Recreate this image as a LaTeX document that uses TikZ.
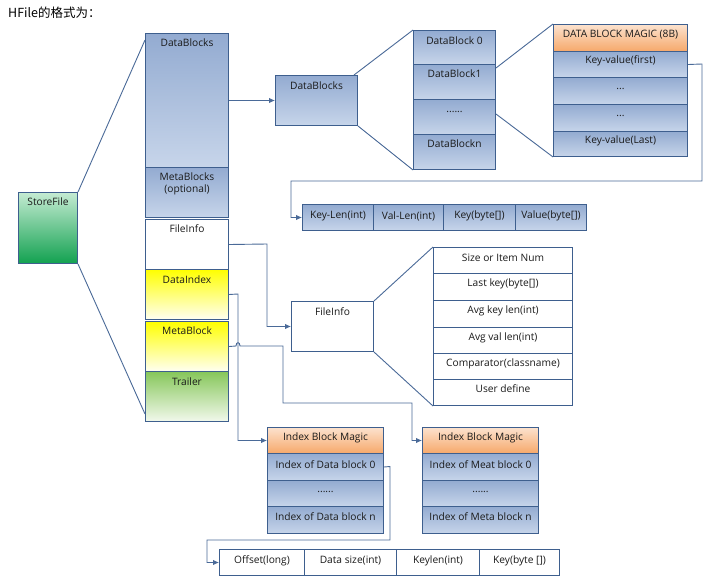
\documentclass[tikz,border=0pt]{standalone}
\usepackage{fontspec}
\setmainfont{Open Sans}
\newfontfamily\cjk{Noto Sans CJK SC}
\usetikzlibrary{arrows.meta}
\definecolor{edge}{HTML}{3E5F8E}
\definecolor{conn}{HTML}{4A6A98}
\definecolor{txt}{HTML}{1A1A1A}
\definecolor{bluetop}{HTML}{93ABD1}
\definecolor{bluebot}{HTML}{C7D5EA}
\definecolor{orgtop}{HTML}{FCE2CE}
\definecolor{orgbot}{HTML}{F6A86A}
\definecolor{yeltop}{HTML}{FFFF00}
\definecolor{yelbot}{HTML}{FFFFF2}
\definecolor{grntop}{HTML}{86C75A}
\definecolor{grnbot}{HTML}{F2F9EC}
\definecolor{sftop}{HTML}{C4EBD2}
\definecolor{sfbot}{HTML}{12A150}
\tikzset{
  boxbase/.style={draw=edge, line width=1pt, inner sep=0pt},
  bluecell/.style={boxbase, top color=bluetop, bottom color=bluebot},
  whitecell/.style={boxbase, fill=white},
  orgcell/.style={boxbase, top color=orgtop, bottom color=orgbot},
  yelcell/.style={boxbase, top color=yeltop, bottom color=yelbot},
  grncell/.style={boxbase, top color=grntop, bottom color=grnbot},
  sfcell/.style={boxbase, top color=sftop, bottom color=sfbot},
  lbl/.style={font=\fontsize{10.2}{12}\selectfont, text=txt, inner sep=0pt, align=center},
  conline/.style={draw=conn, line width=0.9pt},
  arr/.style={conline, -{Latex[length=6pt,width=5.5pt]}}
}
% name, x, y, w, h, style, text offset, text
\newcommand\cellbox[8]{%
  \node[#6, minimum width=#4pt, minimum height=#5pt, anchor=north west] (#1) at (#2,#3) {};
  \node[lbl] (#1t) at ([yshift=-#7pt]#1.north) {#8};}
\begin{document}
\begin{tikzpicture}[x=1pt,y=-1pt]
\useasboundingbox[fill=white] (0,0) rectangle (718,579);

\node[font=\cjk\fontsize{12.5}{14}\selectfont, text=black, inner sep=0pt, anchor=west] (title) at (8,13) {HFile的格式为：};

% StoreFile
\cellbox{sf}{18}{192}{59}{71}{sfcell}{10}{StoreFile}

% main column
\cellbox{db}{145}{33}{83}{134}{bluecell}{10}{DataBlocks}
\cellbox{mbs}{145}{167}{83}{50}{bluecell}{17}{MetaBlocks\\(optional)}
\cellbox{fi}{145}{219}{83}{50}{whitecell}{10}{FileInfo}
\cellbox{di}{145}{269}{83}{50}{yelcell}{11}{DataIndex}
\cellbox{mb}{145}{321}{83}{50}{yelcell}{10}{MetaBlock}
\cellbox{tr}{145}{371}{83}{50}{grncell}{11}{Trailer}

% DataBlocks detail
\cellbox{dbb}{275}{75}{82}{50}{bluecell}{11}{DataBlocks}
\cellbox{dbc0}{413}{30}{82}{34}{bluecell}{11}{DataBlock 0}
\cellbox{dbc1}{413}{64}{82}{35}{bluecell}{10}{DataBlock1}
\cellbox{dbc2}{413}{99}{82}{35}{bluecell}{13}{......}
\cellbox{dbcn}{413}{134}{82}{35}{bluecell}{10}{DataBlockn}

% key-value column
\cellbox{kvm}{553}{24}{134}{27}{orgcell}{11}{DATA BLOCK MAGIC (8B)}
\cellbox{kv1}{553}{51}{134}{26}{bluecell}{10}{Key-value(first)}
\cellbox{kv2}{553}{77}{134}{27}{bluecell}{12}{...}
\cellbox{kv3}{553}{104}{134}{27}{bluecell}{12}{...}
\cellbox{kvl}{553}{131}{134}{25}{bluecell}{10}{Key-value(Last)}

% key-len row
\cellbox{kl1}{302}{204}{71}{26}{bluecell}{12}{Key-Len(int)}
\cellbox{kl2}{373}{204}{70}{26}{bluecell}{12}{Val-Len(int)}
\cellbox{kl3}{443}{204}{72}{26}{bluecell}{12}{Key(byte[])}
\cellbox{kl4}{515}{204}{71}{26}{bluecell}{12}{Value(byte[])}

% FileInfo detail
\cellbox{fib}{291}{301}{82}{50}{whitecell}{11}{FileInfo}
\cellbox{fd1}{433}{247}{139}{26}{whitecell}{11}{Size or Item Num}
\cellbox{fd2}{433}{273}{139}{27}{whitecell}{11}{Last key(byte[])}
\cellbox{fd3}{433}{300}{139}{27}{whitecell}{11}{Avg key len(int)}
\cellbox{fd4}{433}{327}{139}{26}{whitecell}{11}{Avg val len(int)}
\cellbox{fd5}{433}{353}{139}{26}{whitecell}{11}{Comparator(classname)}
\cellbox{fd6}{433}{379}{139}{26}{whitecell}{10}{User define}

% Data index block
\cellbox{ia0}{267}{427}{116}{26}{orgcell}{11}{Index Block Magic}
\cellbox{ia1}{267}{453}{116}{27}{bluecell}{12}{Index of Data block 0}
\cellbox{ia2}{267}{480}{116}{26}{bluecell}{12}{......}
\cellbox{ia3}{267}{506}{116}{27}{bluecell}{11}{Index of Data block n}

% Meta index block
\cellbox{ib0}{422}{427}{116}{26}{orgcell}{11}{Index Block Magic}
\cellbox{ib1}{422}{453}{116}{27}{bluecell}{12}{Index of Meat block 0}
\cellbox{ib2}{422}{480}{116}{26}{bluecell}{12}{......}
\cellbox{ib3}{422}{506}{116}{27}{bluecell}{11}{Index of Meta block n}

% offset row
\cellbox{of1}{219}{549}{85}{26}{whitecell}{12}{Offset(long)}
\cellbox{of2}{304}{549}{92}{26}{whitecell}{12}{Data size(int)}
\cellbox{of3}{396}{549}{83}{26}{whitecell}{12}{Keylen(int)}
\cellbox{of4}{479}{549}{80}{26}{whitecell}{12}{Key(byte [])}

% expansion lines
\draw[conline] (sf.north east) -- ([yshift=-7pt]db.north west);
\draw[conline] (sf.south east) -- ([yshift=8pt]tr.south west);
\draw[conline] ([xshift=-4pt]dbb.north east) -- (dbc0.north west);
\draw[conline] (dbb.south east) -- (dbcn.south west);
\draw[conline] ([yshift=-4pt]dbc1.north east) -- (kvm.north west);
\draw[conline] ([yshift=-15pt]dbc2.north east) -- (kvl.south west);
\draw[conline] (fib.north east) -- (fd1.north west);
\draw[conline] (fib.south east) -- (fd6.south west);

% connectors
\draw[arr] (db.east) -- (dbb.west);
\draw[arr] (kv1.east) -- (702,64) -- (702,181) -- (291,181) |- (kl1.west);
\draw[arr] (fi.east) -- (267,244) |- (fib.west);
\draw[arr] (di.east) -- (238,294) |- (ia0.west);
\draw[arr] (mb.east) -- (236,346) .. controls (236,341.5) and (240,341.5) .. (240,346) -- (283,346) -- (283,403) -- (412,403) |- (ib0.west);
\draw[arr] (ia1.east) -- (390,466.5) -- (390,540) -- (207,540) |- (of1.west);
\end{tikzpicture}
\end{document}
